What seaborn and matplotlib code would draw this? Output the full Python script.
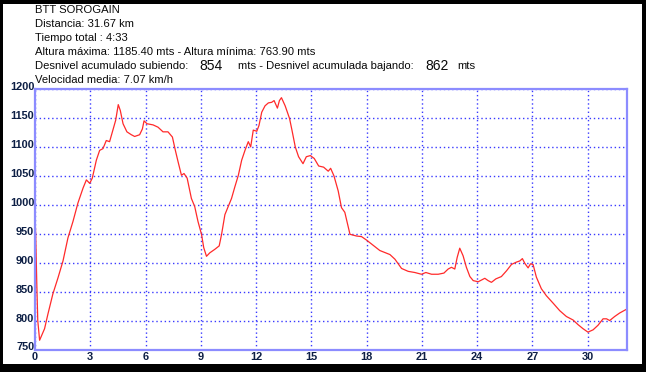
import matplotlib
matplotlib.use('Agg')
from matplotlib import pyplot as plt
from matplotlib.patches import Rectangle
import matplotlib.transforms as mtransforms
import seaborn as sns
import pandas as pd

# perfil (km, metros)
distancia = [0.0, 0.04, 0.10, 0.15, 0.25, 0.40, 0.52, 0.70, 0.97, 1.25, 1.52, 1.79,
             2.06, 2.33, 2.61, 2.79, 2.97, 3.11, 3.33, 3.51, 3.69, 3.87, 4.05, 4.23,
             4.38, 4.52, 4.63, 4.78, 4.99, 5.23, 5.41, 5.68, 5.83, 5.92, 6.08, 6.41,
             6.68, 6.95, 7.22, 7.46, 7.62, 7.77, 7.95, 8.09, 8.26, 8.49, 8.67, 8.85,
             9.04, 9.16, 9.31, 9.49, 9.76, 10.0, 10.13, 10.31, 10.49, 10.67, 10.85,
             11.04, 11.22, 11.40, 11.58, 11.71, 11.85, 12.04, 12.16, 12.31, 12.49,
             12.67, 12.85, 12.98, 13.16, 13.27, 13.38, 13.58, 13.82, 13.95, 14.13,
             14.31, 14.55, 14.73, 14.95, 15.16, 15.40, 15.67, 15.92, 16.05, 16.23,
             16.46, 16.64, 16.82, 17.10, 17.46, 17.73, 18.0, 18.36, 18.72, 19.27,
             19.54, 19.90, 20.26, 20.62, 20.98, 21.22, 21.53, 21.89, 22.20, 22.43,
             22.61, 22.79, 22.92, 23.06, 23.24, 23.42, 23.61, 23.79, 24.06, 24.24,
             24.42, 24.60, 24.78, 25.02, 25.32, 25.60, 25.87, 26.14, 26.32, 26.46,
             26.59, 26.77, 26.90, 27.04, 27.22, 27.49, 27.76, 28.13, 28.49, 28.85,
             29.21, 29.48, 29.75, 30.02, 30.30, 30.57, 30.84, 31.03, 31.20, 31.47,
             31.74, 32.14]
altura = [983, 945, 860, 800, 766, 777, 786, 811, 846, 874, 903, 943,
          971, 1003, 1029, 1043, 1037, 1046, 1077, 1094, 1097, 1111, 1109, 1129,
          1146, 1173, 1163, 1140, 1126, 1121, 1118, 1121, 1131, 1145, 1140, 1138,
          1134, 1126, 1126, 1117, 1094, 1074, 1051, 1054, 1046, 1011, 997, 971,
          949, 926, 911, 917, 923, 929, 949, 983, 997, 1011, 1031,
          1051, 1077, 1094, 1109, 1100, 1129, 1127, 1137, 1160, 1171,
          1176, 1177, 1180, 1167, 1180, 1185, 1171, 1149, 1129, 1100,
          1083, 1071, 1083, 1085, 1080, 1067, 1065, 1058, 1063, 1050,
          1024, 995, 987, 949, 946, 945, 939, 930, 921, 914,
          906, 890, 885, 883, 880, 883, 880, 880, 882, 889,
          892, 889, 909, 925, 912, 892, 876, 869, 867, 870,
          873, 869, 866, 872, 876, 886, 897, 901, 903, 907,
          899, 891, 898, 897, 875, 855, 843, 830, 817, 807,
          801, 793, 786, 780, 784, 792, 803, 803, 800, 807,
          813, 820]

x_ticks = [0, 3, 6, 9, 12, 15, 18, 21, 24, 27, 30]
y_ticks = [750, 800, 850, 900, 950, 1000, 1050, 1100, 1150, 1200]

cabecera = ['BTT SOROGAIN', 'Distancia: 31.67 km', 'Tiempo total : 4:33',
            'Altura máxima: 1185.40 mts - Altura mínima: 763.90 mts']

perfil = pd.DataFrame({'distancia': distancia, 'altura': altura})

sns.set_style('white')
plt.rcParams['font.family'] = ['Liberation Sans', 'DejaVu Sans']

fig = plt.figure(figsize=(6.46, 3.72), dpi=100, facecolor='black')
fig.add_artist(Rectangle((3 / 646, 1 - 364 / 372), 639 / 646, 360 / 372,
                         transform=fig.transFigure, facecolor='white',
                         edgecolor='none', zorder=-1))

ax = fig.add_axes([35 / 646, 1 - 349.5 / 372, 592 / 646, 260.5 / 372])
ax.set_facecolor('white')

sns.lineplot(x='distancia', y='altura', data=perfil, ax=ax, color='#ff2a2a',
             linewidth=0.9, sort=False, estimator=None)

ax.set_xlim(0, 32.14)
ax.set_ylim(750, 1200)
ax.set_xticks(x_ticks)
ax.set_yticks(y_ticks)
ax.set_xlabel('')
ax.set_ylabel('')
ax.grid(True, color='#3a3aff', linestyle=(0, (1, 2)), linewidth=1)
for s in ax.spines.values():
    s.set_color('#8c8cff')
    s.set_linewidth(1.6)
ax.tick_params(axis='both', length=0, labelsize=7.9, labelcolor='#0d1f45')
ax.tick_params(axis='x', pad=1.5)
ax.tick_params(axis='y', pad=0.5)
for lab in ax.get_xticklabels() + ax.get_yticklabels():
    lab.set_fontweight('bold')
desplaza = mtransforms.ScaledTranslation(0, 3 / 100, fig.dpi_scale_trans)
for lab in ax.get_yticklabels():
    lab.set_transform(lab.get_transform() + desplaza)

# textos de cabecera
fs = 8.15
for i, t in enumerate(cabecera):
    fig.text(35 / 646, 1 - (10 + 14 * i) / 372, t, fontsize=fs,
             va='center', ha='left', color='#0a0a0a')
y5 = 1 - 66 / 372
fig.text(35 / 646, y5, 'Desnivel acumulado subiendo:', fontsize=fs, va='center', color='#0a0a0a')
fig.text(199 / 646, y5, '854', fontsize=10, va='center', color='#0a0a0a')
fig.text(238 / 646, y5, 'mts - Desnivel acumulada bajando:', fontsize=fs, va='center', color='#0a0a0a')
fig.text(425 / 646, y5, '862', fontsize=10, va='center', color='#0a0a0a')
fig.text(457 / 646, y5, 'mts', fontsize=fs, va='center', color='#0a0a0a')
fig.text(35 / 646, 1 - 80 / 372, 'Velocidad media: 7.07 km/h', fontsize=fs,
         va='center', ha='left', color='#0a0a0a')

fig.savefig('out.png', dpi=100, facecolor='black')
